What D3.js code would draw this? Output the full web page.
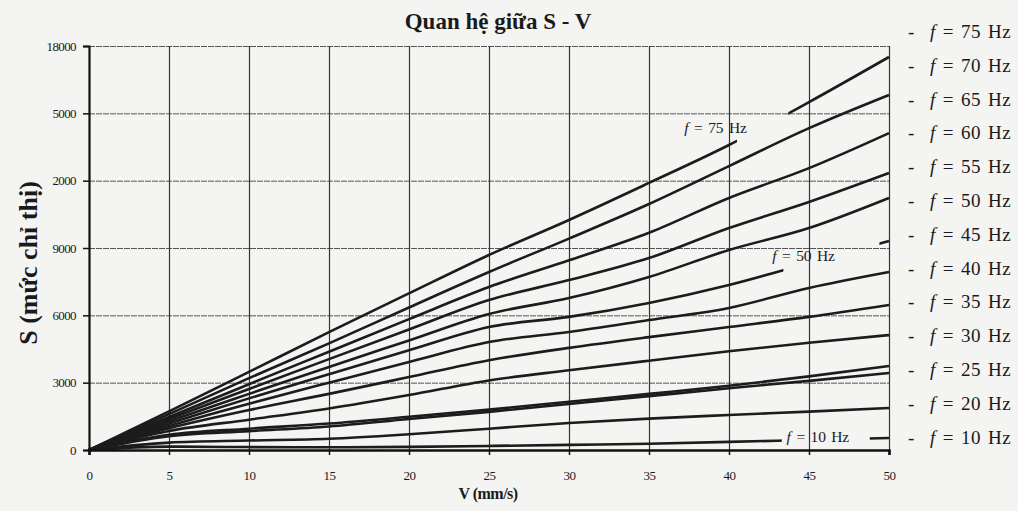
<!DOCTYPE html>
<html>
<head>
<meta charset="utf-8">
<script src="https://cdn.jsdelivr.net/npm/d3@7"></script>
<style>
html, body { margin: 0; padding: 0; background: #f4f4f2; }
svg { display: block; font-family: "Liberation Serif", "Times New Roman", serif; }
</style>
</head>
<body>
<svg id="chart" width="1018" height="511"></svg>
<script>
// V (mm/s) sample points
const speeds = [0, 5, 10, 15, 20, 25, 30, 35, 40, 45, 50];
const freqs = [75, 70, 65, 60, 55, 50, 45, 40, 35, 30, 25, 20, 10];

// S, one array per frequency
const s75 = [0, 1720, 3480, 5250, 6980, 8690, 10250, 11900, 13590, 15500, 17510];
const s70 = [0, 1600, 3200, 4750, 6350, 7930, 9420, 10960, 12650, 14340, 15820];
const s65 = [0, 1470, 2930, 4380, 5830, 7260, 8450, 9680, 11230, 12560, 14120];
const s60 = [0, 1380, 2720, 4050, 5370, 6680, 7570, 8550, 9890, 11050, 12340];
const s55 = [0, 1280, 2500, 3700, 4880, 6060, 6770, 7710, 8910, 9890, 11230];
const s50 = [0, 1180, 2300, 3380, 4440, 5480, 5930, 6550, 7350, 8330, 9310];
const s45 = [0, 1070, 2060, 3000, 3920, 4810, 5260, 5790, 6330, 7220, 7930];
const s40 = [0, 970, 1780, 2500, 3250, 4000, 4550, 5030, 5480, 5930, 6460];
const s35 = [0, 850, 1350, 1850, 2450, 3100, 3550, 3980, 4400, 4780, 5120];
const s30 = [0, 680, 950, 1180, 1480, 1800, 2150, 2500, 2860, 3280, 3740];
const s25 = [0, 620, 840, 1050, 1380, 1700, 2050, 2400, 2750, 3080, 3430];
const s20 = [0, 330, 420, 500, 700, 950, 1200, 1400, 1560, 1710, 1870];
const s10 = [0, 150, 130, 120, 140, 180, 230, 280, 360, 450, 535];
const seriesValues = [s75, s70, s65, s60, s55, s50, s45, s40, s35, s30, s25, s20, s10];

// axis ticks (labels as printed)
const sTicks = [0, 3000, 6000, 9000, 12000, 15000, 18000];
const sTickLabels = ['0', '3000', '6000', '9000', '2000', '5000', '18000'];
const vTicks = [0, 5, 10, 15, 20, 25, 30, 35, 40, 45, 50];

// curves interrupted where their label sits (V from, V to)
const gaps = { 75: [40.5, 43.7], 50: [43.4, 49.4], 10: [43.3, 48.8] };
const inlineLabels = [
  { f: 75, v: 37.2, s: 14120 },
  { f: 50, v: 42.7, s: 8420 },
  { f: 10, v: 43.6, s: 350 }
];

const svg = d3.select('#chart');
const margin = { left: 89, right: 129, top: 46, bottom: 61 };
const width = 1018, height = 511;

const x = d3.scaleLinear().domain([0, 50]).range([margin.left, width - margin.right]);
const y = d3.scaleLinear().domain([0, 18000]).range([height - margin.bottom, margin.top]);

// grid
svg.append('g')
  .attr('transform', 'translate(' + margin.left + ',0)')
  .call(d3.axisLeft(y).tickValues(sTicks.slice(1)).tickSize(-(x(50) - x(0))).tickFormat(''))
  .call(g => g.select('.domain').remove())
  .selectAll('line').attr('stroke', '#555').attr('stroke-width', 1).attr('stroke-dasharray', '6,1');

svg.append('g')
  .attr('transform', 'translate(0,' + y(0) + ')')
  .call(d3.axisBottom(x).tickValues(vTicks.slice(1)).tickSize(-(y(0) - y(18000))).tickFormat(''))
  .call(g => g.select('.domain').remove())
  .selectAll('line').attr('stroke', '#333').attr('stroke-width', 1.2);

// curves
const line = d3.line()
  .x(d => x(d[0]))
  .y(d => y(d[1]))
  .curve(d3.curveMonotoneX);

const defs = svg.append('defs');
freqs.forEach(f => {
  if (!gaps[f]) return;
  const cp = defs.append('clipPath').attr('id', 'gap' + f);
  cp.append('rect').attr('x', 0).attr('y', 0)
    .attr('width', x(gaps[f][0])).attr('height', height);
  cp.append('rect').attr('x', x(gaps[f][1])).attr('y', 0)
    .attr('width', width - x(gaps[f][1])).attr('height', height);
});

svg.append('g').selectAll('path')
  .data(freqs)
  .join('path')
  .attr('d', (f, i) => line(speeds.map((v, j) => [v, seriesValues[i][j]])))
  .attr('fill', 'none')
  .attr('stroke', '#1c1c1c')
  .attr('stroke-width', 2.6)
  .attr('stroke-linejoin', 'round')
  .attr('clip-path', f => gaps[f] ? 'url(#gap' + f + ')' : null);

// axes
const yAxis = svg.append('g')
  .attr('transform', 'translate(' + margin.left + ',0)')
  .call(d3.axisLeft(y).tickValues(sTicks).tickFormat((d, i) => sTickLabels[i]).tickSize(6).tickPadding(7));
yAxis.select('.domain').attr('stroke', '#111').attr('stroke-width', 2.2);
yAxis.selectAll('.tick line').attr('stroke', '#111').attr('stroke-width', 1.5);
yAxis.selectAll('text').attr('font-size', 13).attr('fill', '#1a1a1a')
  .attr('font-family', '"Liberation Serif", serif').attr('letter-spacing', -0.6);

const xAxis = svg.append('g')
  .attr('transform', 'translate(0,' + y(0) + ')')
  .call(d3.axisBottom(x).tickValues(vTicks).tickSize(5).tickPadding(16));
xAxis.select('.domain').attr('stroke', '#111').attr('stroke-width', 2.6);
xAxis.selectAll('.tick line').attr('stroke', '#111').attr('stroke-width', 1.5);
xAxis.selectAll('text').attr('font-size', 13).attr('fill', '#1a1a1a')
  .attr('font-family', '"Liberation Serif", serif').attr('letter-spacing', -0.6);

// inline labels
const lbl = svg.append('g').selectAll('text')
  .data(inlineLabels)
  .join('text')
  .attr('x', d => x(d.v))
  .attr('y', d => y(d.s))
  .attr('font-size', 15.5)
  .attr('fill', '#1a1a1a')
  .attr('word-spacing', 2)
  .attr('letter-spacing', -0.2);
lbl.append('tspan').attr('font-style', 'italic').text('f');
lbl.append('tspan').text(d => ' = ' + d.f + ' Hz');

// legend
const leg = svg.append('g').selectAll('g')
  .data(freqs)
  .join('g')
  .attr('transform', (f, i) => 'translate(908,' + (38 + i * 33.8) + ')');
leg.append('text').attr('x', 0).attr('font-size', 19).attr('fill', '#1a1a1a').text('-');
const legText = leg.append('text').attr('x', 22).attr('font-size', 19).attr('fill', '#1a1a1a')
  .attr('word-spacing', 2).attr('letter-spacing', 0.4);
legText.append('tspan').attr('font-style', 'italic').text('f');
legText.append('tspan').text(f => ' = ' + f + ' Hz');

// titles
svg.append('text')
  .attr('x', 498).attr('y', 29)
  .attr('text-anchor', 'middle')
  .attr('font-size', 23).attr('font-weight', 'bold').attr('fill', '#1a1a1a')
  .text('Quan hệ giữa S - V');

svg.append('text')
  .attr('transform', 'translate(37,263) rotate(-90)')
  .attr('text-anchor', 'middle')
  .attr('font-size', 26).attr('font-weight', 'bold').attr('fill', '#1a1a1a')
  .text('S (mức chỉ thị)');

svg.append('text')
  .attr('x', 488).attr('y', 499)
  .attr('text-anchor', 'middle')
  .attr('font-size', 16).attr('font-weight', 'bold').attr('fill', '#1a1a1a')
  .attr('letter-spacing', -0.5)
  .text('V (mm/s)');
</script>
</body>
</html>
